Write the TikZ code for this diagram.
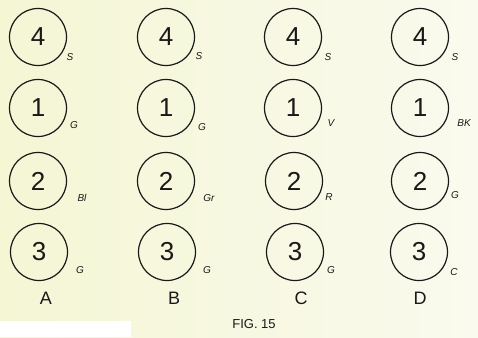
\documentclass[tikz,border=0pt]{standalone}
\usepackage{fontspec}
\setmainfont{Liberation Sans}
\definecolor{paperL}{RGB}{244,246,212}
\definecolor{paperR}{RGB}{250,250,238}
\definecolor{ink}{RGB}{25,25,25}
\begin{document}
\begin{tikzpicture}[x=1pt,y=-1pt,
  hole/.style={circle,draw=ink,line width=1.2pt,minimum size=57pt,inner sep=0pt,font=\fontsize{26}{26}\selectfont,text=ink},
  tag/.style={font=\itshape\fontsize{10}{10}\selectfont,text=ink,inner sep=0pt},
  colname/.style={font=\fontsize{18}{18}\selectfont,text=ink,inner sep=0pt}]
\useasboundingbox (0,0) rectangle (478,337);
\shade[left color=paperL,right color=paperR] (0,0) rectangle (478,337);
\fill[white] (0,321) rectangle (131,337);
% column A
\node[hole] (a4) at (38,37) {4};
\node[hole] (a1) at (38,108) {1};
\node[hole] (a2) at (38,181) {2};
\node[hole] (a3) at (39,252) {3};
\node[tag] (ta4) at (70,57) {S};
\node[tag] (ta1) at (74,125) {G};
\node[tag] (ta2) at (82,198) {Bl};
\node[tag] (ta3) at (80,270) {G};
% column B
\node[hole] (b4) at (166,37) {4};
\node[hole] (b1) at (166,108) {1};
\node[hole] (b2) at (166,181) {2};
\node[hole] (b3) at (167,252) {3};
\node[tag] (tb4) at (199,56) {S};
\node[tag] (tb1) at (202,127) {G};
\node[tag] (tb2) at (209,198) {Gr};
\node[tag] (tb3) at (207,270) {G};
% column C
\node[hole] (c4) at (293,37) {4};
\node[hole] (c1) at (293,108) {1};
\node[hole] (c2) at (294,181) {2};
\node[hole] (c3) at (295,252) {3};
\node[tag] (tc4) at (328,57) {S};
\node[tag] (tc1) at (331,123) {V};
\node[tag] (tc2) at (329,197) {R};
\node[tag] (tc3) at (331,270) {G};
% column D
\node[hole] (d4) at (420,37) {4};
\node[hole] (d1) at (420,108) {1};
\node[hole] (d2) at (420,181) {2};
\node[hole] (d3) at (419,252) {3};
\node[tag] (td4) at (455,57) {S};
\node[tag] (td1) at (464,123) {BK};
\node[tag] (td2) at (455,195) {G};
\node[tag] (td3) at (454,272) {C};
% column names
\node[colname] (la) at (46,298) {A};
\node[colname] (lb) at (174,298) {B};
\node[colname] (lc) at (301,298) {C};
\node[colname] (ld) at (420,298) {D};
\node[font=\fontsize{13}{13}\selectfont,text=ink,inner sep=0pt] (fig) at (254,324) {FIG. 15};
\end{tikzpicture}
\end{document}
